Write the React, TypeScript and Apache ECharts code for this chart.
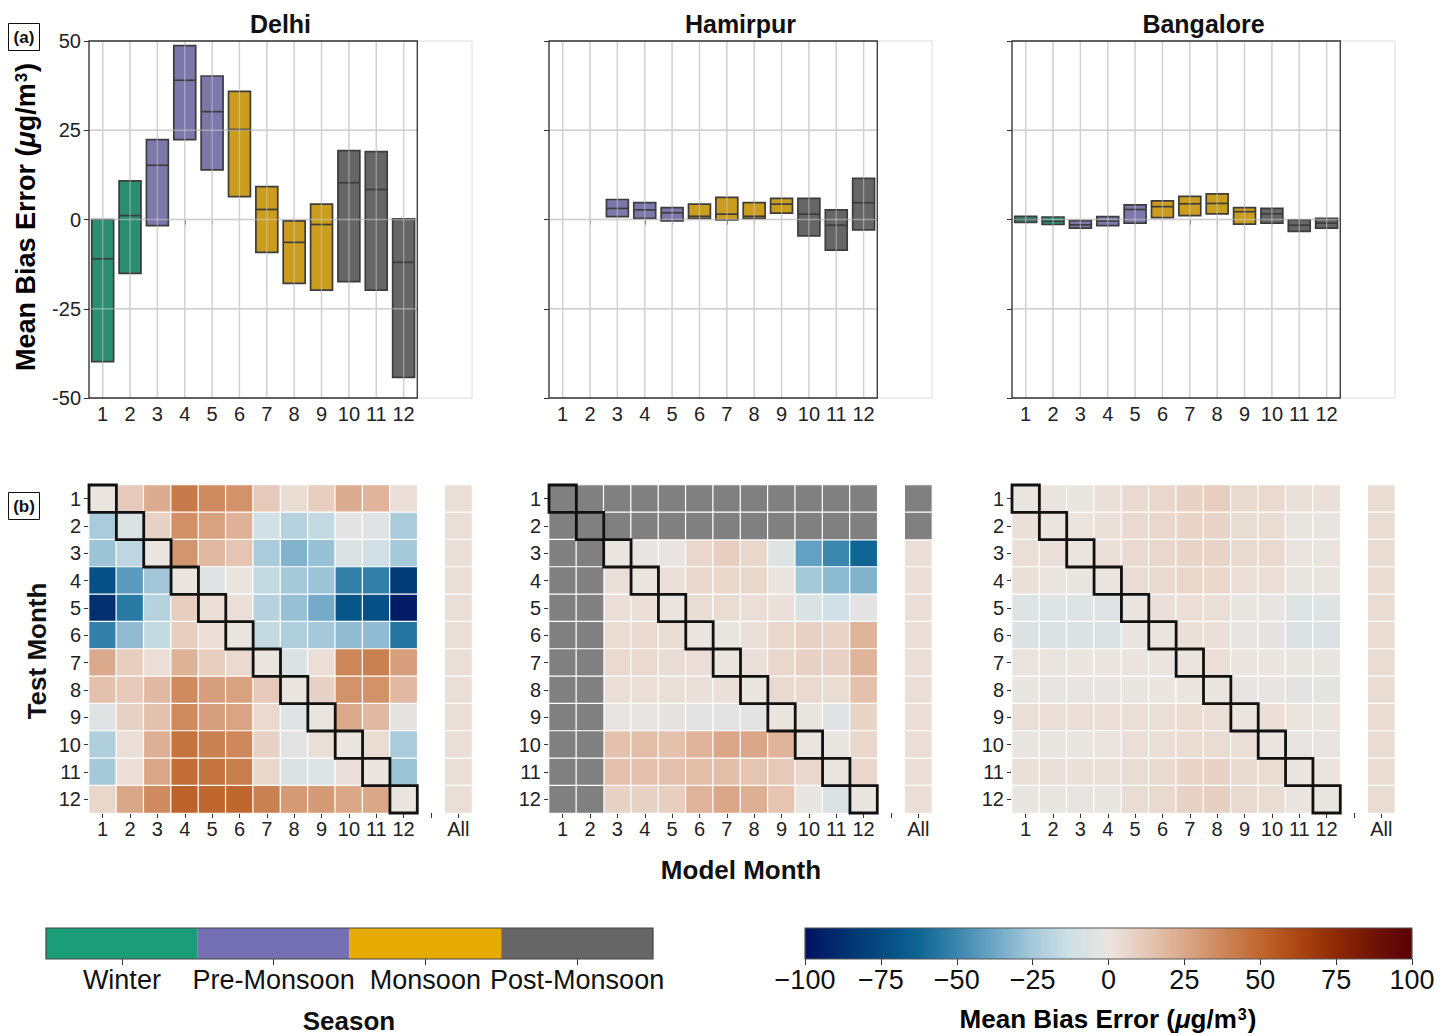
import React, { useEffect, useRef } from 'react';
import * as echarts from 'echarts';

const FONT = '"Liberation Sans", Arial, Helvetica, sans-serif';

const MONTHS = ['1', '2', '3', '4', '5', '6', '7', '8', '9', '10', '11', '12'];
const HEAT_COLS = [...MONTHS, '', 'All'];
const CITIES = ['Delhi', 'Hamirpur', 'Bangalore'];
const SEASONS = ['Winter', 'Pre-Monsoon', 'Monsoon', 'Post-Monsoon'];
const SEASON_COLORS = ['#1b9e77', '#7570b3', '#e6ab02', '#666666'];
const BOX_COLORS = ['#2b8e70', '#7c78ab', '#ca9d1f', '#666666'];
const MONTH_SEASON = [0, 0, 1, 1, 1, 2, 2, 2, 2, 3, 3, 3];
const MBE_TICKS = [-100, -75, -50, -25, 0, 25, 50, 75, 100];

// Box plots: lower quartile, median, upper quartile per month (null = no data)
const delhiLow = [-39.8, -15.1, -1.7, 22.4, 13.9, 6.4, -9.2, -17.9, -19.8, -17.4, -19.8, -44.2];
const delhiMed = [-11, 1.1, 15.2, 39, 30.2, 25.2, 2.8, -6.4, -1.4, 10.3, 8.4, -12];
const delhiHigh = [0, 10.8, 22.4, 48.7, 40.2, 35.9, 9.2, -0.4, 4.3, 19.3, 19, 0.2];

const hamirpurLow = [null, null, 0.8, 0.3, -0.4, 0.3, -0.1, 0.3, 1.8, -4.6, -8.6, -2.9];
const hamirpurMed = [null, null, 3.1, 2.7, 1.9, 0.9, 1.5, 0.9, 4.3, 1.5, -1.6, 4.7];
const hamirpurHigh = [null, null, 5.6, 4.7, 3.3, 4.3, 6.2, 4.7, 5.9, 5.9, 2.7, 11.5];

const bangaloreLow = [-0.8, -1.4, -2.4, -1.7, -1.0, 0.5, 1.1, 1.6, -1.3, -1.0, -3.3, -2.4];
const bangaloreMed = [0, -0.5, -1.5, -0.4, 2.8, 3.6, 4.4, 4.5, 2.2, 1.6, -1.6, -1.0];
const bangaloreHigh = [0.9, 0.7, -0.3, 0.8, 4.1, 5.2, 6.5, 7.2, 3.3, 3.1, -0.1, 0.3];

// Heatmaps: rows = test month 1..12, columns = model month 1..12 then "All"
const delhiMBE = [
  [0, 12, 23, 42, 36, 33, 12, 4, 10, 23, 20, 3, 3],
  [-24, -8, 8, 34, 27, 21, -12, -20, -16, -3, -5, -24, 3],
  [-27, -18, 0, 32, 19, 14, -24, -33, -28, -8, -12, -25, 3],
  [-72, -42, -26, 0, -5, 0, -16, -25, -27, -52, -52, -82, 3],
  [-88, -55, -20, 10, 3, 3, -20, -28, -36, -70, -72, -96, 3],
  [-52, -30, -16, 10, 3, 0, -16, -22, -25, -30, -30, -56, 3],
  [24, 10, 3, 21, 10, 5, 0, -8, 3, 38, 40, 28, 3],
  [15, 12, 18, 36, 28, 27, 12, 0, 8, 33, 33, 18, 3],
  [-5, 8, 15, 36, 28, 26, 5, -6, 0, 24, 18, -3, 3],
  [-22, 3, 22, 45, 40, 37, 8, -4, 3, 0, 4, -24, 3],
  [-25, 3, 25, 48, 45, 41, 6, -8, -6, 2, 0, -27, 3],
  [6, 25, 36, 52, 50, 50, 40, 30, 30, 25, 25, 0, 3],
];
const hamirpurMBE = [
  [null, null, null, null, null, null, null, null, null, null, null, null, null],
  [null, null, null, null, null, null, null, null, null, null, null, null, null],
  [null, null, 0, -2, -2, 6, 10, 6, -6, -40, -50, -62, 3],
  [null, null, 2, 0, 2, 6, 6, 6, 1, -25, -31, -33, 3],
  [null, null, 3, 3, 0, 4, 4, 3, 2, -8, -12, -4, 3],
  [null, null, 4, 5, 4, 0, -1, 2, 6, 8, 7, 20, 3],
  [null, null, 5, 5, 4, 3, 0, 2, 6, 8, 8, 20, 3],
  [null, null, 3, 3, 3, 2, 2, 0, 5, 5, 4, 15, 3],
  [null, null, -2, -2, -3, -4, -4, -4, 0, -1, -5, 7, 3],
  [null, null, 15, 16, 15, 20, 25, 25, 20, 0, -1, 6, 3],
  [null, null, 15, 15, 15, 16, 16, 14, 12, 6, 0, 6, 3],
  [null, null, 8, 8, 10, 20, 25, 22, 14, -1, -8, 0, 3],
];
const bangaloreMBE = [
  [0, 1, -1, 2, 5, 6, 8, 10, 5, 5, 2, 2, 4],
  [2, 0, 1, 2, 5, 6, 7, 7, 4, 4, -1, -1, 4],
  [3, 2, 0, 2, 5, 6, 7, 7, 5, 5, 1, 1, 4],
  [2, 1, -1, 0, 4, 5, 6, 6, 3, 3, -1, 0, 4],
  [-6, -6, -6, -5, 0, 2, 3, 3, -1, -2, -6, -6, 4],
  [-7, -7, -8, -8, -1, 0, 2, 2, -2, -3, -7, -7, 4],
  [1, 1, 0, 0, 1, 1, 0, 3, 0, 0, -1, -1, 4],
  [-1, -2, -2, -2, -1, 0, 0, 0, -2, -2, -4, -3, 4],
  [3, 3, 3, 3, 3, 3, 4, 3, 0, 3, 1, 1, 4],
  [-1, -1, -1, 1, 3, 3, 4, 4, 3, 0, -2, -2, 4],
  [2, 2, 2, 2, 4, 5, 7, 8, 5, 4, 0, 1, 4],
  [-1, -1, -2, -1, 4, 5, 8, 9, 5, 4, 0, 0, 4],
];

const VIK = [
  '#001261', '#02306f', '#044a80', '#0d6594', '#3a86ad', '#6ea7c6', '#a6c9da', '#d0e0e7',
  '#ebe5e0', '#e6c8b6', '#daa789', '#cd8759', '#c0672f', '#ab4612', '#8e2a06', '#6f1306', '#590008',
];

const BOX_DATA = [
  [delhiLow, delhiMed, delhiHigh],
  [hamirpurLow, hamirpurMed, hamirpurHigh],
  [bangaloreLow, bangaloreMed, bangaloreHigh],
];
const HEAT_DATA = [delhiMBE, hamirpurMBE, bangaloreMBE];

const PANEL_LEFT = [89, 549, 1012];
const PANEL_W = 383;

function buildOption(): any {
  const grid: any[] = [];
  const xAxis: any[] = [];
  const yAxis: any[] = [];
  const series: any[] = [];
  const heatIdx: number[] = [];
  const missIdx: number[] = [];

  const tickStyle = { color: '#333', width: 1 };
  const labelStyle = { fontSize: 20, color: '#222', fontFamily: FONT };

  // ---------- top box panels ----------
  CITIES.forEach((city, i) => {
    grid.push({ left: PANEL_LEFT[i], top: 41, width: PANEL_W, height: 357, show: true, borderColor: '#dcdcdc', borderWidth: 1 });
    xAxis.push({
      type: 'category', gridIndex: i, data: HEAT_COLS, boundaryGap: true,
      axisLine: { show: false },
      axisTick: { show: true, alignWithLabel: true, length: 5, lineStyle: tickStyle, interval: (idx: number) => idx < 12 },
      axisLabel: { ...labelStyle, margin: 6, interval: (idx: number) => idx < 12 },
      splitLine: { show: false },
    });
    yAxis.push({
      type: 'value', gridIndex: i, min: -50, max: 50, interval: 25,
      axisLine: { show: false },
      axisTick: { show: true, length: 5, lineStyle: tickStyle },
      axisLabel: { ...labelStyle, show: i === 0, margin: 8 },
      splitLine: { show: false },
    });

    const [lo, me, hi] = BOX_DATA[i];
    const boxes: any[] = [];
    lo.forEach((v, m) => {
      if (v === null) return;
      boxes.push([m, v, me[m], hi[m], MONTH_SEASON[m]]);
    });

    const gridRender = (alpha: number) => (params: any, api: any) => {
      const bw = api.size([1, 0])[0];
      const children: any[] = [];
      const stroke = alpha < 1 ? 'rgba(210,210,210,' + alpha + ')' : '#cfcfcf';
      for (let m = 0; m < 12; m++) {
        const a = api.coord([m, 50]);
        const b = api.coord([m, -50]);
        children.push({ type: 'line', shape: { x1: a[0], y1: a[1], x2: b[0], y2: b[1] }, style: { stroke, lineWidth: 1.3 } });
      }
      [-25, 0, 25].forEach((y) => {
        const a = api.coord([0, y]);
        const b = api.coord([11, y]);
        children.push({ type: 'line', shape: { x1: a[0] - bw / 2, y1: a[1], x2: b[0] + bw / 2, y2: b[1] }, style: { stroke, lineWidth: 1.3 } });
      });
      return { type: 'group', children };
    };

    series.push({
      type: 'custom', xAxisIndex: i, yAxisIndex: i, z: 1, clip: false, silent: true,
      data: [[0, 0]], renderItem: gridRender(1),
    });
    series.push({
      type: 'custom', xAxisIndex: i, yAxisIndex: i, z: 2, clip: false,
      data: boxes,
      encode: { x: 0, y: [1, 2, 3] },
      renderItem: (params: any, api: any) => {
        const m = api.value(0);
        const lowV = api.value(1);
        const medV = api.value(2);
        const highV = api.value(3);
        const s = api.value(4);
        const bw = api.size([1, 0])[0] * 0.8;
        const pl = api.coord([m, lowV]);
        const ph = api.coord([m, highV]);
        const pm = api.coord([m, medV]);
        return {
          type: 'group',
          children: [
            { type: 'rect', shape: { x: pl[0] - bw / 2, y: ph[1], width: bw, height: pl[1] - ph[1] }, style: { fill: BOX_COLORS[s], stroke: '#3c3c3c', lineWidth: 1.7 } },
            { type: 'line', shape: { x1: pm[0] - bw / 2, y1: pm[1], x2: pm[0] + bw / 2, y2: pm[1] }, style: { stroke: '#3c3c3c', lineWidth: 1.7 } },
          ],
        };
      },
    });
    series.push({
      type: 'custom', xAxisIndex: i, yAxisIndex: i, z: 3, clip: false, silent: true,
      data: [[0, 0]], renderItem: gridRender(0.5),
    });
    series.push({
      type: 'custom', xAxisIndex: i, yAxisIndex: i, z: 4, clip: false, silent: true,
      data: [[0, 0]],
      renderItem: (params: any, api: any) => {
        const bw = api.size([1, 0])[0];
        const tl = api.coord([0, 50]);
        const br = api.coord([11, -50]);
        return {
          type: 'rect',
          shape: { x: tl[0] - bw / 2, y: tl[1], width: br[0] - tl[0] + bw, height: br[1] - tl[1] },
          style: { fill: 'none', stroke: '#333333', lineWidth: 1.3 },
        };
      },
    });
  });

  // ---------- heatmaps ----------
  CITIES.forEach((city, i) => {
    const gi = 3 + i;
    grid.push({ left: PANEL_LEFT[i], top: 485, width: PANEL_W, height: 328 });
    xAxis.push({
      type: 'category', gridIndex: gi, data: HEAT_COLS, boundaryGap: true,
      axisLine: { show: false },
      axisTick: { show: true, alignWithLabel: true, length: 5, lineStyle: tickStyle, interval: 0 },
      axisLabel: { ...labelStyle, margin: 6, interval: 0 },
      splitLine: { show: false }, splitArea: { show: false },
    });
    yAxis.push({
      type: 'category', gridIndex: gi, data: MONTHS, inverse: true, boundaryGap: true,
      axisLine: { show: false },
      axisTick: { show: true, alignWithLabel: true, length: 5, lineStyle: tickStyle, interval: 0 },
      axisLabel: { ...labelStyle, margin: 8, interval: 0 },
      splitLine: { show: false }, splitArea: { show: false },
    });
    const vals: any[] = [];
    const missing: any[] = [];
    HEAT_DATA[i].forEach((row, r) => {
      row.forEach((v, c) => {
        const col = c < 12 ? c : 13;
        if (v === null) missing.push([col, r, 0]);
        else vals.push([col, r, v]);
      });
    });
    heatIdx.push(series.length);
    series.push({
      type: 'heatmap', xAxisIndex: gi, yAxisIndex: gi, data: vals, z: 2,
      itemStyle: { borderColor: '#ffffff', borderWidth: 1.2 },
      emphasis: { disabled: true },
    });
    missIdx.push(series.length);
    series.push({
      type: 'heatmap', xAxisIndex: gi, yAxisIndex: gi, data: missing, z: 2,
      itemStyle: { borderColor: '#ffffff', borderWidth: 1.2 },
      emphasis: { disabled: true },
    });
    series.push({
      type: 'custom', xAxisIndex: gi, yAxisIndex: gi, z: 5, clip: false, silent: true,
      data: MONTHS.map((_, k) => [k, k]),
      renderItem: (params: any, api: any) => {
        const c = api.coord([api.value(0), api.value(1)]);
        const sz = api.size([1, 1]);
        return {
          type: 'rect',
          shape: { x: c[0] - sz[0] / 2, y: c[1] - sz[1] / 2, width: sz[0], height: sz[1] },
          style: { fill: 'none', stroke: '#111111', lineWidth: 2.8 },
        };
      },
    });
  });

  // ---------- season colour bar ----------
  grid.push({ left: 46, top: 928, width: 607, height: 31 });
  xAxis.push({
    type: 'category', gridIndex: 6, data: SEASONS, boundaryGap: true,
    axisLine: { show: false },
    axisTick: { show: true, alignWithLabel: true, length: 6, lineStyle: tickStyle },
    axisLabel: { fontSize: 27, color: '#111', fontFamily: FONT, margin: 7, interval: 0 },
  });
  yAxis.push({ type: 'value', gridIndex: 6, min: 0, max: 1, show: false });
  series.push({
    type: 'custom', xAxisIndex: 6, yAxisIndex: 6, z: 2, clip: false, silent: true,
    data: SEASONS.map((_, k) => [k, 0, k]),
    renderItem: (params: any, api: any) => {
      const k = api.value(0);
      const bw = api.size([1, 0])[0];
      const top = api.coord([k, 1]);
      const bot = api.coord([k, 0]);
      return {
        type: 'rect',
        shape: { x: top[0] - bw / 2, y: top[1], width: bw, height: bot[1] - top[1] },
        style: { fill: SEASON_COLORS[api.value(2)] },
      };
    },
  });
  series.push({
    type: 'custom', xAxisIndex: 6, yAxisIndex: 6, z: 3, clip: false, silent: true,
    data: [[0, 0]],
    renderItem: (params: any, api: any) => {
      const bw = api.size([1, 0])[0];
      const tl = api.coord([0, 1]);
      const br = api.coord([3, 0]);
      return {
        type: 'rect',
        shape: { x: tl[0] - bw / 2, y: tl[1], width: br[0] - tl[0] + bw, height: br[1] - tl[1] },
        style: { fill: 'none', stroke: '#444', lineWidth: 1.2 },
      };
    },
  });

  // ---------- MBE colour bar ----------
  grid.push({ left: 805, top: 928, width: 607, height: 31 });
  xAxis.push({
    type: 'value', gridIndex: 7, min: MBE_TICKS[0], max: MBE_TICKS[MBE_TICKS.length - 1], interval: 25,
    axisLine: { show: false },
    axisTick: { show: true, length: 6, lineStyle: tickStyle },
    axisLabel: {
      fontSize: 27, color: '#111', fontFamily: FONT, margin: 7,
      formatter: (v: number) => (v < 0 ? '\u2212' + Math.abs(v) : String(v)),
    },
    splitLine: { show: false },
  });
  yAxis.push({ type: 'value', gridIndex: 7, min: 0, max: 1, show: false });
  const grad = new echarts.graphic.LinearGradient(0, 0, 1, 0,
    VIK.map((c, k) => ({ offset: k / (VIK.length - 1), color: c })));
  series.push({
    type: 'custom', xAxisIndex: 7, yAxisIndex: 7, z: 2, clip: false, silent: true,
    data: [[MBE_TICKS[0], 0]],
    renderItem: (params: any, api: any) => {
      const tl = api.coord([MBE_TICKS[0], 1]);
      const br = api.coord([MBE_TICKS[MBE_TICKS.length - 1], 0]);
      return {
        type: 'rect',
        shape: { x: tl[0], y: tl[1], width: br[0] - tl[0], height: br[1] - tl[1] },
        style: { fill: grad, stroke: '#555', lineWidth: 1.2 },
      };
    },
  });

  const bold = (size: number) => ({ fontSize: size, fontWeight: 'bold', fill: '#111', fontFamily: FONT });
  const mbeRich = (size: number) => ({
    a: { fontSize: size, fontWeight: 'bold', fontFamily: FONT, color: '#111' },
    mu: { fontSize: size, fontWeight: 'bold', fontStyle: 'italic', fontFamily: FONT, color: '#111' },
    sup: { fontSize: size * 0.62, fontWeight: 'bold', fontFamily: FONT, color: '#111', verticalAlign: 'top', padding: [0, 1, 0, 1] },
  });
  const mbeText = '{a|Mean Bias Error (}{mu|\u03bc}{a|g/m}{sup|3}{a|)}';

  const graphic: any[] = [
    ...CITIES.map((c, i) => ({
      type: 'text', x: PANEL_LEFT[i] + PANEL_W / 2, y: 24,
      style: { text: c, ...bold(25), align: 'center', verticalAlign: 'middle' },
    })),
    { type: 'rect', shape: { x: 8.5, y: 23.5, width: 31, height: 27 }, style: { fill: '#fff', stroke: '#111', lineWidth: 1 } },
    { type: 'text', x: 24, y: 37, style: { text: '(a)', ...bold(17), align: 'center', verticalAlign: 'middle' } },
    { type: 'rect', shape: { x: 8.5, y: 492.5, width: 31, height: 27 }, style: { fill: '#fff', stroke: '#111', lineWidth: 1 } },
    { type: 'text', x: 24, y: 506, style: { text: '(b)', ...bold(17), align: 'center', verticalAlign: 'middle' } },
    {
      type: 'text', x: 26, y: 217, rotation: Math.PI / 2,
      style: { text: mbeText, rich: mbeRich(27), align: 'center', verticalAlign: 'middle' },
    },
    {
      type: 'text', x: 37, y: 651, rotation: Math.PI / 2,
      style: { text: 'Test Month', ...bold(26), align: 'center', verticalAlign: 'middle' },
    },
    { type: 'text', x: 741, y: 870, style: { text: 'Model Month', ...bold(26), align: 'center', verticalAlign: 'middle' } },
    { type: 'text', x: 349, y: 1021, style: { text: 'Season', ...bold(26), align: 'center', verticalAlign: 'middle' } },
    {
      type: 'text', x: 1108, y: 1019,
      style: { text: mbeText, rich: mbeRich(26), align: 'center', verticalAlign: 'middle' },
    },
  ];

  return {
    animation: false,
    backgroundColor: '#ffffff',
    textStyle: { fontFamily: FONT },
    grid, xAxis, yAxis, series, graphic,
    visualMap: [
      {
        type: 'continuous', show: false, min: -100, max: 100, seriesIndex: heatIdx,
        inRange: { color: VIK },
      },
      {
        type: 'continuous', show: false, min: -1, max: 1, seriesIndex: missIdx,
        inRange: { color: ['#808080', '#808080'] },
      },
    ],
  };
}

export default function App() {
  const ref = useRef<HTMLDivElement>(null);
  useEffect(() => {
    document.body.style.margin = '0';
    const chart = echarts.init(ref.current!, null, { renderer: 'svg' });
    chart.setOption(buildOption());
    return () => chart.dispose();
  }, []);
  return <div ref={ref} style={{ width: 1451, height: 1036, background: '#fff' }} />;
}
